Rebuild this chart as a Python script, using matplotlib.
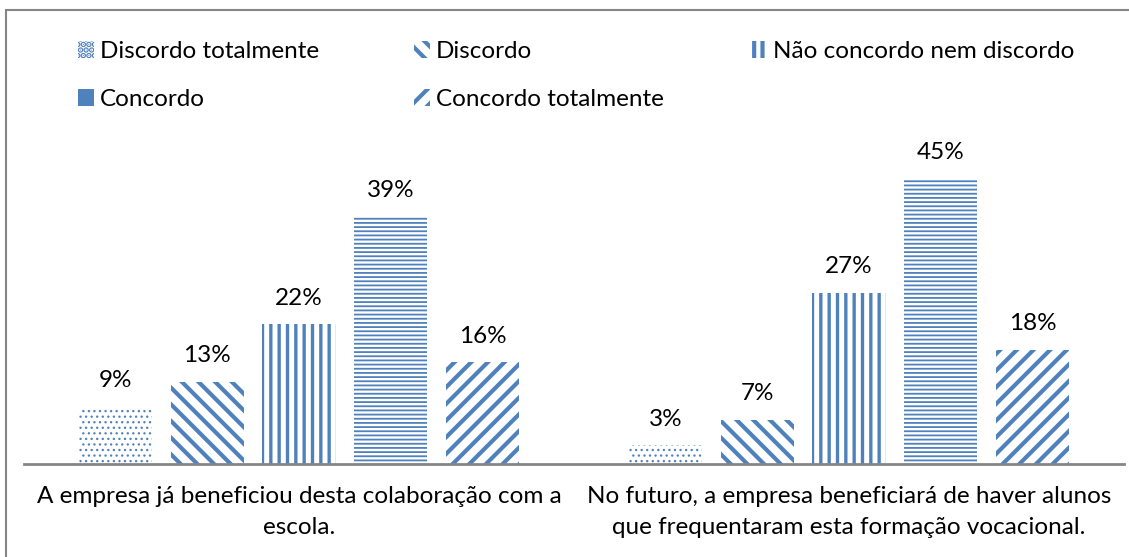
import matplotlib
matplotlib.use("Agg")
import matplotlib.pyplot as plt
from matplotlib.patches import Rectangle
import numpy as np

categories = [
    "A empresa já beneficiou desta colaboração com a\nescola.",
    "No futuro, a empresa beneficiará de haver alunos\nque frequentaram esta formação vocacional.",
]
series_names = [
    "Discordo totalmente",
    "Discordo",
    "Não concordo nem discordo",
    "Concordo",
    "Concordo totalmente",
]
discordo_totalmente = [9, 3]
discordo = [13, 7]
nem_nem = [22, 27]
concordo = [39, 45]
concordo_totalmente = [16, 18]
series_values = [discordo_totalmente, discordo, nem_nem, concordo, concordo_totalmente]

blue = "#4F81BD"
hatches = ["...", "\\\\", "||", "----", "//"]
hatch_lw = [0.9, 3.0, 2.4, 1.3, 3.0]

FS = 17.5
plt.rcParams["font.family"] = ["Lato", "DejaVu Sans"]
W, H = 1129, 557
fig = plt.figure(figsize=(W / 100, H / 100), dpi=100)

ax_left, ax_right = 24, 1124
ax_bottom_px, ax_top_px = 464, 148
ax = fig.add_axes([ax_left / W, (H - ax_bottom_px) / H,
                   (ax_right - ax_left) / W, (ax_bottom_px - ax_top_px) / H])

x = np.arange(len(categories))
bar_w = 0.133
step = 0.167
handles = []
for i, (name, vals) in enumerate(zip(series_names, series_values)):
    plt.rcParams["hatch.linewidth"] = hatch_lw[i]
    bars = ax.bar(x + (i - 2) * step, vals, width=bar_w, facecolor="white",
                  edgecolor=blue, linewidth=0, hatch=hatches[i], label=name)
    for b in bars:
        if hasattr(b, "set_hatch_linewidth"):
            b.set_hatch_linewidth(hatch_lw[i])
    handles.append(bars)
    for xi, v in zip(x + (i - 2) * step, vals):
        ax.annotate(f"{v}%", (xi, v), xytext=(0, 14), textcoords="offset points",
                    ha="center", va="baseline", fontsize=FS, color="black")

ax.set_xlim(-0.5, 1.5)
ax.set_ylim(0, 49.8)
ax.set_yticks([])
ax.set_xticks(x)
ax.set_xticklabels(categories, fontsize=FS, linespacing=1.58)
ax.tick_params(axis="x", length=0, pad=16)
for s in ["top", "right", "left"]:
    ax.spines[s].set_visible(False)
ax.spines["bottom"].set_color("#868686")
ax.spines["bottom"].set_linewidth(2)

# legend laid out as three columns, each anchored at its own x position
columns = [[0, 3], [1, 4], [2]]
col_x = [78, 414, 751]
for idx, cx in zip(columns, col_x):
    lg = fig.legend([handles[k] for k in idx], [series_names[k] for k in idx],
                    ncol=1, loc="upper left", bbox_to_anchor=(cx / W, 1 - 41 / H),
                    frameon=False, fontsize=FS, handlelength=0.65, handleheight=0.65,
                    handletextpad=0.25, labelspacing=1.11,
                    borderpad=0, borderaxespad=0)

# outer chart frame
fig.patches.append(Rectangle((6 / W, -0.1), 1.2, 1.1 - 10 / H, transform=fig.transFigure,
                             fill=False, edgecolor="#868686", linewidth=1.5, clip_on=False))

fig.savefig("out.png", dpi=100)
